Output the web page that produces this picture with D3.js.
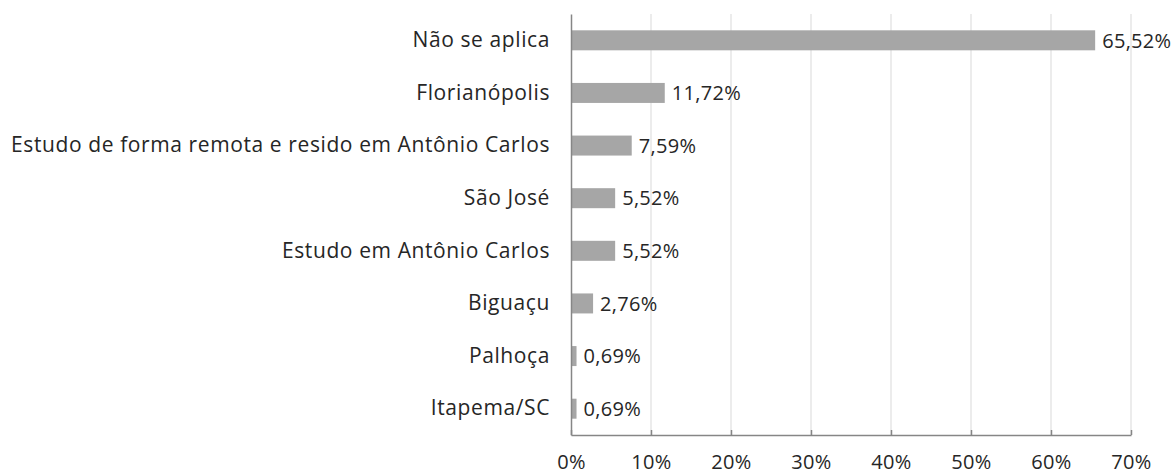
<!DOCTYPE html>
<html>
<head>
<meta charset="utf-8">
<script src="https://cdn.jsdelivr.net/npm/d3@7"></script>
<style>
  body { margin: 0; background: #fff; }
  svg text { font-family: "Open Sans", Lato, sans-serif; }
</style>
</head>
<body>
<div id="chart"></div>
<script>
const categories = [
    'Não se aplica',
    'Florianópolis',
    'Estudo de forma remota e resido em Antônio Carlos',
    'São José',
    'Estudo em Antônio Carlos',
    'Biguaçu',
    'Palhoça',
    'Itapema/SC',
];
const values = [65.52, 11.72, 7.59, 5.52, 5.52, 2.76, 0.69, 0.69];
const xTicks = [0, 10, 20, 30, 40, 50, 60, 70];

const width = 1174;
const height = 475;
const margin = { top: 14, right: 43, bottom: 40, left: 571 };
const innerW = width - margin.left - margin.right;
const innerH = height - margin.top - margin.bottom;
const fontFam = '"Open Sans", Lato, sans-serif';

const svg = d3
    .select('#chart')
    .append('svg')
    .attr('width', width)
    .attr('height', height);

const g = svg
    .append('g')
    .attr('transform', `translate(${margin.left}, ${margin.top})`);

const x = d3.scaleLinear().domain([0, 70]).range([0, innerW]);
const y = d3
    .scaleBand()
    .domain(categories)
    .range([0, innerH])
    .paddingInner(0.62)
    .paddingOuter(0.31);

const fmt = (v) => v.toFixed(2).replace('.', ',') + '%';

// gridlines
g.append('g')
    .selectAll('line')
    .data(xTicks.slice(1))
    .join('line')
    .attr('x1', (d) => x(d))
    .attr('x2', (d) => x(d))
    .attr('y1', 0)
    .attr('y2', innerH)
    .attr('stroke', '#d9d9d9')
    .attr('stroke-width', 1);

// bars
g.append('g')
    .selectAll('rect')
    .data(values)
    .join('rect')
    .attr('x', 0)
    .attr('y', (_, i) => y(categories[i]))
    .attr('width', (d) => x(d))
    .attr('height', y.bandwidth())
    .attr('fill', '#a6a6a6');

// value labels
g.append('g')
    .selectAll('text')
    .data(values)
    .join('text')
    .attr('x', (d) => x(d) + 7)
    .attr('y', (_, i) => y(categories[i]) + y.bandwidth() / 2)
    .attr('dy', '0.36em')
    .attr('font-size', '20px')
    .attr('letter-spacing', '0.3px')
    .attr('fill', '#262626')
    .text((d) => fmt(d));

// x axis
const xAxis = g
    .append('g')
    .attr('transform', `translate(0, ${innerH})`)
    .call(
        d3
            .axisBottom(x)
            .tickValues(xTicks)
            .tickSizeInner(-5)
            .tickSizeOuter(0)
            .tickPadding(20)
            .tickFormat((d) => d + '%')
    );
xAxis.select('.domain').attr('stroke', '#868686').attr('stroke-width', 1.5);
xAxis.selectAll('.tick line').attr('stroke', '#868686').attr('stroke-width', 1.5);
xAxis
    .selectAll('.tick text')
    .attr('font-size', '20px')
    .attr('letter-spacing', '0.3px')
    .attr('fill', '#262626')
    .style('font-family', fontFam);

// y axis
const yAxis = g
    .append('g')
    .call(d3.axisLeft(y).tickSize(0).tickPadding(21));
yAxis.select('.domain').attr('stroke', '#868686').attr('stroke-width', 1.5);
yAxis
    .selectAll('.tick text')
    .attr('font-size', '21px')
    .attr('letter-spacing', '0.6px')
    .attr('fill', '#262626')
    .style('font-family', fontFam);
</script>
</body>
</html>
